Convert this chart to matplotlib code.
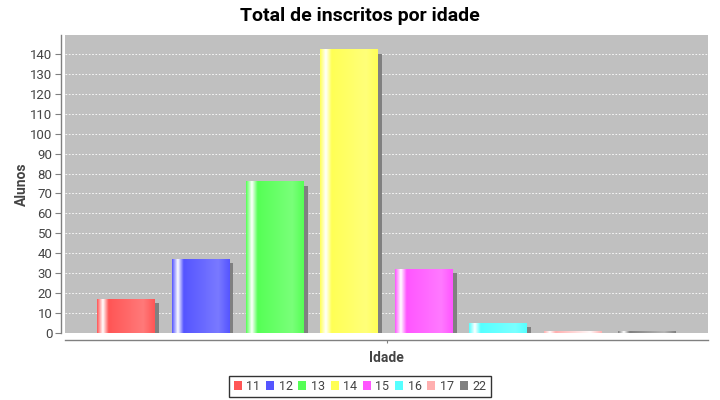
import numpy as np
import matplotlib
matplotlib.use("Agg")
import matplotlib.pyplot as plt
from matplotlib.patches import Rectangle, Patch
from matplotlib.transforms import offset_copy

plt.rcParams["font.family"] = ["Roboto", "DejaVu Sans"]

ages = ["11", "12", "13", "14", "15", "16", "17", "22"]
alunos = [17, 37, 76, 142, 32, 5, 1, 1]
colors = ["#ff5555", "#5555ff", "#55ff55", "#ffff55", "#ff55ff", "#55ffff", "#ffafaf", "#808080"]
yticks = list(range(0, 150, 10))

INK = "#444444"
BG = "#c0c0c0"


def brighter(rgb):
    # java.awt.Color.brighter
    r, g, b = (np.array(rgb) * 255).astype(int)
    i = int(1.0 / 0.3)
    r, g, b = [max(v, i) if 0 < v < i else v for v in (r, g, b)]
    return np.minimum(np.array([r, g, b]) / 0.7, 255) / 255


def bar_strip(color, n=200):
    """Horizontal colour strip like JFreeChart's GradientBarPainter."""
    c0 = np.array(matplotlib.colors.to_rgb(color))
    c1 = brighter(c0)
    w = np.ones(3)
    t = np.linspace(0, 1, n)
    out = np.zeros((n, 3))
    for k, x in enumerate(t):
        if x < 0.1:
            f = x / 0.1
            out[k] = c0 + (w - c0) * f
        elif x < 0.2:
            f = (x - 0.1) / 0.1
            out[k] = w + (c0 - w) * f
        elif x < 0.8:
            f = (x - 0.2) / 0.6
            out[k] = c0 + (c1 - c0) * f
        else:
            f = (x - 0.8) / 0.2
            out[k] = c1 + (c0 - c1) * f
    return out[np.newaxis, :, :]


fig = plt.figure(figsize=(7.2, 4.0), dpi=100)
ax = fig.add_axes([65 / 720, 1 - 333 / 400, (708 - 65) / 720, (333 - 35) / 400])
ax.set_facecolor(BG)

# category layout: 5% margins, 20% item margin
n = len(ages)
avail = 0.9
bw = avail * 0.8 / n
gap = avail * 0.2 / (n - 1)
x0s = [0.05 + i * (bw + gap) for i in range(n)]

shadow_tr = offset_copy(ax.transData, fig=fig, x=4, y=-4, units="dots")
for x0, v in zip(x0s, alunos):
    ax.add_patch(Rectangle((x0, 0), bw, v, facecolor="#808080", edgecolor="none",
                           transform=shadow_tr, zorder=2))
for x0, v, c in zip(x0s, alunos, colors):
    ax.imshow(bar_strip(c), extent=(x0, x0 + bw, 0, v), aspect="auto",
              interpolation="bilinear", zorder=3)
ax.set_xlim(0, 1)
ax.set_ylim(0, 149.5)

ax.set_yticks(yticks)
ax.yaxis.grid(True, color="white", linestyle=(0, (2, 2)), linewidth=0.6)
ax.set_axisbelow(True)
ax.set_xticks([0.5])
ax.set_xticklabels([""])

for s in ("top", "right"):
    ax.spines[s].set_visible(False)
ax.spines["left"].set_position(("outward", 3))
ax.spines["bottom"].set_position(("outward", 5))
for s in ("left", "bottom"):
    ax.spines[s].set_color("#808080")
    ax.spines[s].set_linewidth(1.0)
ax.tick_params(axis="both", colors="#808080", labelcolor=INK, labelsize=9.5, length=4, width=0.8, pad=2)
ax.tick_params(axis="x", length=2)

ax.set_ylabel("Alunos", fontsize=10, fontweight="bold", color=INK, labelpad=1)
ax.set_xlabel("Idade", fontsize=10, fontweight="bold", color=INK, labelpad=4)
fig.text(0.5, 1 - 16 / 400, "Total de inscritos por idade", ha="center", va="center",
         fontsize=14, fontweight="bold", color="black")

handles = [Patch(facecolor=c, edgecolor="none", label=a) for a, c in zip(ages, colors)]
leg = fig.legend(handles=handles, loc="center", bbox_to_anchor=(0.5, 1 - 386.5 / 400), ncol=n,
                 frameon=True, fancybox=False, fontsize=9, handlelength=0.64, handleheight=0.64,
                 handletextpad=0.37, columnspacing=0.45, borderpad=0.35, borderaxespad=0,
                 labelcolor=INK)
leg.get_frame().set_edgecolor("black")
leg.get_frame().set_linewidth(1.0)

fig.savefig("out.png", dpi=100)
